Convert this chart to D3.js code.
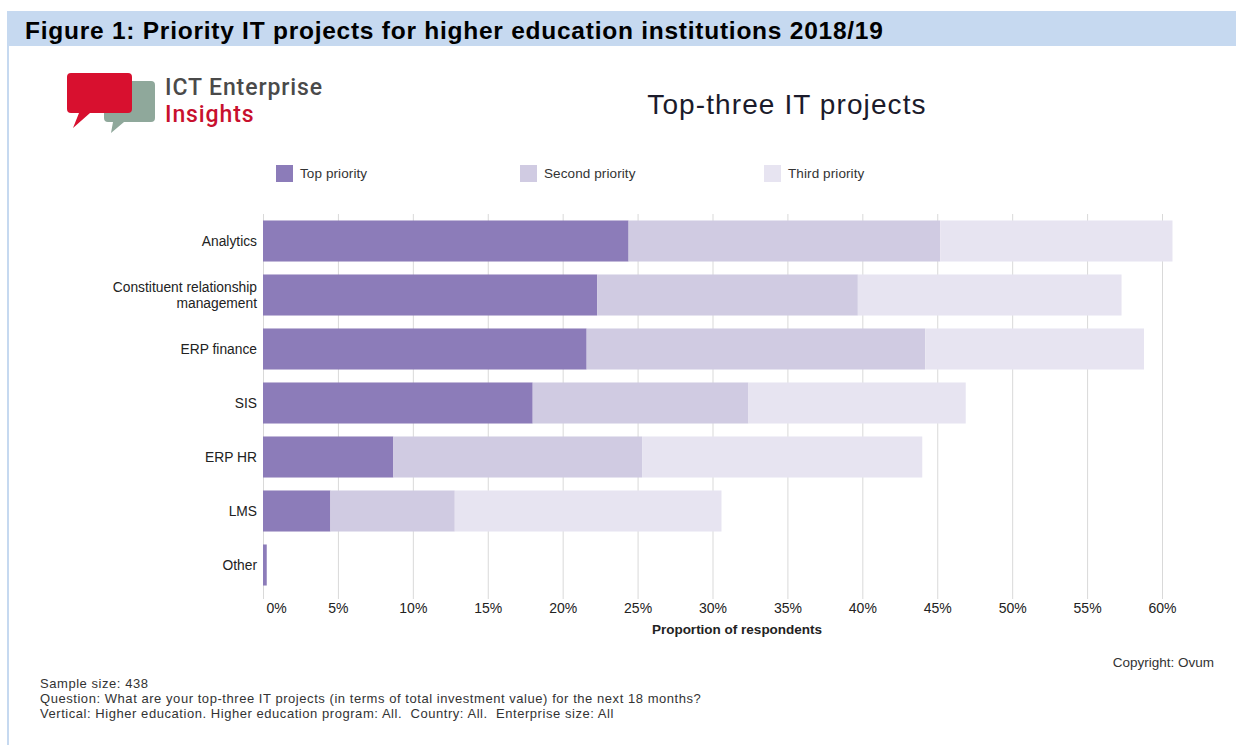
<!DOCTYPE html>
<html>
<head>
<meta charset="utf-8">
<script src="https://cdn.jsdelivr.net/npm/d3@7"></script>
<style>
  html, body { margin: 0; padding: 0; background: #ffffff; }
  svg { display: block; }
  text { font-family: "Liberation Sans", Arial, sans-serif; }
</style>
</head>
<body>
<svg id="chart" width="1236" height="745"></svg>
<script>
// ---- Data: share of respondents naming each project as a top-three priority (%) ----
const categories = ["Analytics", "Constituent relationship management", "ERP finance", "SIS", "ERP HR", "LMS", "Other"];
const categoryLines = [["Analytics"], ["Constituent relationship", "management"], ["ERP finance"], ["SIS"], ["ERP HR"], ["LMS"], ["Other"]];
const seriesNames = ["Top priority", "Second priority", "Third priority"];
const topPriority    = [24.4, 22.3, 21.6, 18.0, 8.7, 4.5, 0.25];
const secondPriority = [20.8, 17.4, 22.6, 14.4, 16.6, 8.3, 0];
const thirdPriority  = [15.5, 17.6, 14.6, 14.5, 18.7, 17.8, 0];
const tickValues = [0, 5, 10, 15, 20, 25, 30, 35, 40, 45, 50, 55, 60];

const colors = ["#8c7cb9", "#d0cbe2", "#e7e4f1"];

const rows = categories.map((c, i) => ({
  category: c,
  "Top priority": topPriority[i],
  "Second priority": secondPriority[i],
  "Third priority": thirdPriority[i]
}));

const svg = d3.select("#chart");

// ---- Page frame: heading banner and left rule ----
svg.append("rect").attr("x", 7).attr("y", 11).attr("width", 1229).attr("height", 35).attr("fill", "#c6d9f0");
svg.append("rect").attr("x", 7).attr("y", 46).attr("width", 2).attr("height", 699).attr("fill", "#c6d9f0");
svg.append("text")
  .attr("x", 25).attr("y", 39)
  .attr("font-size", 24.5).attr("font-weight", "bold").attr("fill", "#000")
  .attr("letter-spacing", 0.75)
  .text("Figure 1: Priority IT projects for higher education institutions 2018/19");

// ---- Logo: two speech bubbles and wordmark ----
const logo = svg.append("g");
logo.append("path")
  .attr("d", "M104,81 H151 Q155,81 155,85 V118 Q155,122 151,122 H124 L111,133 L113,122 H108 Q104,122 104,118 Z")
  .attr("fill", "#8fa89b");
logo.append("path")
  .attr("d", "M71,73 H128 Q132,73 132,77 V109 Q132,113 128,113 H90 L73,128 L79,113 H71 Q67,113 67,109 V77 Q67,73 71,73 Z")
  .attr("fill", "#d8102f");
logo.append("text")
  .attr("x", 165).attr("y", 95)
  .style("font-family", "Roboto, 'DejaVu Sans', sans-serif")
  .attr("font-size", 23).attr("font-weight", 500).attr("fill", "#4a4a4a")
  .attr("letter-spacing", 0.9)
  .text("ICT Enterprise");
logo.append("text")
  .attr("x", 165).attr("y", 122)
  .style("font-family", "Roboto, 'DejaVu Sans', sans-serif")
  .attr("font-size", 23).attr("font-weight", 500).attr("fill", "#c8102e")
  .attr("letter-spacing", 0.9)
  .text("Insights");

// ---- Chart title ----
svg.append("text")
  .attr("x", 787).attr("y", 114)
  .attr("text-anchor", "middle")
  .attr("font-size", 28).attr("fill", "#1b1b2b")
  .attr("letter-spacing", 1.1)
  .text("Top-three IT projects");

// ---- Legend ----
const legendX = [276, 520, 764];
const legend = svg.append("g");
seriesNames.forEach((name, i) => {
  legend.append("rect")
    .attr("x", legendX[i]).attr("y", 165).attr("width", 17).attr("height", 17)
    .attr("fill", colors[i]);
  legend.append("text")
    .attr("x", legendX[i] + 24).attr("y", 178)
    .attr("font-size", 13.5).attr("fill", "#333")
    .attr("letter-spacing", 0.1)
    .text(name);
});

// ---- Scales ----
const x = d3.scaleLinear().domain([0, 60]).range([263, 1162]);
const y = d3.scaleBand().domain(categories).range([214, 592]).paddingInner(0.24).paddingOuter(0.12);

// ---- Gridlines and axis ----
const grid = svg.append("g");
grid.selectAll("line")
  .data(tickValues)
  .join("line")
  .attr("x1", d => x(d) + 0.5).attr("x2", d => x(d) + 0.5)
  .attr("y1", 214).attr("y2", 599)
  .attr("stroke", "#d9d9d9").attr("stroke-width", 1);

const xAxis = svg.append("g")
  .attr("transform", "translate(0,596)")
  .call(d3.axisBottom(x).tickValues(tickValues).tickSize(0).tickPadding(0).tickFormat(d => d + "%"));
xAxis.select(".domain").remove();
xAxis.selectAll("text")
  .attr("font-size", 14).attr("fill", "#222")
  .attr("y", 7)
  .style("font-family", "'Liberation Sans', Arial, sans-serif");
xAxis.selectAll(".tick").filter(d => d === 0).select("text")
  .attr("text-anchor", "start").attr("x", 3);

svg.append("text")
  .attr("x", 737).attr("y", 634)
  .attr("text-anchor", "middle")
  .attr("font-size", 13.5).attr("font-weight", "bold").attr("fill", "#222")
  .text("Proportion of respondents");

// ---- Stacked bars ----
const stacked = d3.stack().keys(seriesNames)(rows);
svg.append("g")
  .selectAll("g")
  .data(stacked)
  .join("g")
  .attr("fill", (d, i) => colors[i])
  .selectAll("rect")
  .data(d => d)
  .join("rect")
  .attr("x", d => x(d[0]))
  .attr("y", d => y(d.data.category))
  .attr("width", d => Math.max(0, x(d[1]) - x(d[0])))
  .attr("height", y.bandwidth());

// ---- Category labels ----
const yLabels = svg.append("g");
categories.forEach((c, i) => {
  const lines = categoryLines[i];
  const cy = y(c) + y.bandwidth() / 2;
  const t = yLabels.append("text")
    .attr("text-anchor", "end")
    .attr("font-size", 13.8).attr("fill", "#222");
  lines.forEach((ln, j) => {
    t.append("tspan")
      .attr("x", 257)
      .attr("y", cy + 5 + (j - (lines.length - 1) / 2) * 16)
      .text(ln);
  });
});

// ---- Footnotes ----
svg.append("text")
  .attr("x", 1214).attr("y", 667)
  .attr("text-anchor", "end")
  .attr("font-size", 13.5).attr("fill", "#333")
  .text("Copyright: Ovum");

const notes = [
  "Sample size: 438",
  "Question: What are your top-three IT projects (in terms of total investment value) for the next 18 months?",
  "Vertical: Higher education. Higher education program: All.  Country: All.  Enterprise size: All"
];
svg.append("g").selectAll("text")
  .data(notes)
  .join("text")
  .attr("x", 40)
  .attr("y", (d, i) => 688 + i * 15)
  .attr("font-size", 13).attr("fill", "#333")
  .attr("letter-spacing", 0.55)
  .attr("xml:space", "preserve")
  .text(d => d);
</script>
</body>
</html>
